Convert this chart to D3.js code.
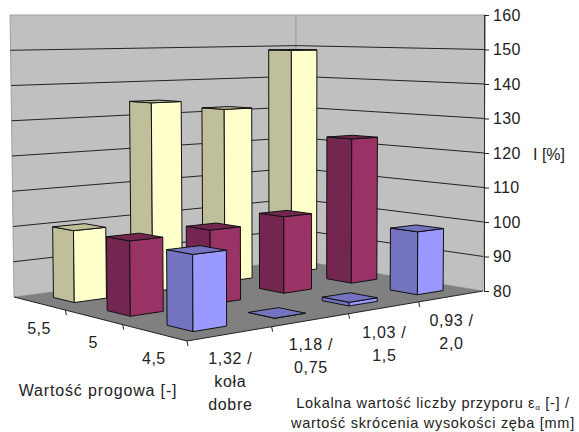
<!DOCTYPE html>
<html><head><meta charset="utf-8">
<script src="https://cdn.jsdelivr.net/npm/d3@7"></script>
<style>html,body{margin:0;padding:0;background:#fff}svg{display:block}text{font-family:"Liberation Sans",Arial,sans-serif;fill:#222}</style>
</head><body><svg id="c" width="579" height="432"></svg>
<script>
const categories=[["1,32 /","koła","dobre"],["1,18 /","0,75"],["1,03 /","1,5"],["0,93 /","2,0"]];
const depths=["5,5","5","4,5"];
const seriesYellow=[100,134.6,131.7,149];
const seriesMaroon=[100,100.5,102,123];
const seriesBlue=[99.5,80,81,98];
const valueTicks=[80,90,100,110,120,130,140,150,160];
const colours=[{left:"#BFBF99",right:"#FFFFCC",top:"#BFBF99"},{left:"#732650",right:"#993366",top:"#732650"},{left:"#7373BF",right:"#9999FF",top:"#7373BF"}];

const floor=quad([14,297],[296,260],[483,291],[187,341]);
function quad(p00,p10,p11,p01){
  const [x0,y0]=p00,[x1,y1]=p10,[x2,y2]=p11,[x3,y3]=p01;
  const sx=x0-x1+x2-x3,sy=y0-y1+y2-y3,dx1=x1-x2,dx2=x3-x2,dy1=y1-y2,dy2=y3-y2;
  const den=dx1*dy2-dx2*dy1,g=(sx*dy2-dx2*sy)/den,h=(dx1*sy-sx*dy1)/den;
  const a=x1-x0+g*x1,b=x3-x0+h*x3,d=y1-y0+g*y1,e=y3-y0+h*y3;
  return (u,v)=>{const w=g*u+h*v+1;return[(a*u+b*v+x0)/w,(d*u+e*v+y0)/w];};
}
const uScale=d3.scaleBand().domain(d3.range(categories.length)).range([0,1]).paddingInner(.6).paddingOuter(.3);
const vScale=d3.scaleBand().domain(depths).range([0,1]).paddingInner(.6).paddingOuter(.3);
const zScale=d3.scaleLinear().domain([80,160]).range([0,1]);
// all vertical edges converge so that the value 160 sits on one screen row
function P(u,v,val){const f=floor(u,v),t=zScale(val);return[f[0]+(f[0]-296)*0.014*t,f[1]+(15-f[1])*t];}
const line=d3.line();
const svg=d3.select("#c");

const poly=(pts,fill,stroke,sw)=>svg.append("path").attr("d",line(pts)+"Z").attr("fill",fill).attr("stroke",stroke||"none").attr("stroke-width",sw||1);
poly([P(0,0,80),P(1,0,80),P(1,0,160),P(0,0,160)],"#C0C0C0","#A0A0A0");
poly([P(1,0,80),P(1,1,80),P(1,1,160),P(1,0,160)],"#C0C0C0","#A0A0A0");
poly([P(0,0,80),P(1,0,80),P(1,1,80),P(0,1,80)],"#808080");

valueTicks.filter(t=>t>80&&t<160).forEach(t=>{
  svg.append("path").attr("d",line([P(0,0,t),P(1,0,t),P(1,1,t)])).attr("fill","none").attr("stroke","#222").attr("stroke-width",1);
});

svg.append("path").attr("d",line([P(0,0,80),P(0,1,80),P(1,1,80)])).attr("fill","none").attr("stroke","#222");
const tick=(p)=>svg.append("line").attr("x1",p[0]).attr("y1",p[1]).attr("x2",p[0]+1).attr("y2",p[1]+5).attr("stroke","#222");
d3.range(1,categories.length).forEach(i=>tick(P(i/4,1,80)));
tick(P(0,1,80));
d3.range(1,depths.length).forEach(i=>tick(P(0,i/3,80)));

const rows=[seriesYellow,seriesMaroon,seriesBlue];
const bars=[];
rows.forEach((vals,r)=>vals.forEach((val,c)=>bars.push({r,c,val})));
bars.sort((a,b)=>a.r-b.r||b.c-a.c);
bars.forEach(b=>{
  const u0=uScale(b.c),u1=u0+uScale.bandwidth(),v0=vScale(depths[b.r]),v1=v0+vScale.bandwidth(),col=colours[b.r];
  poly([P(u0,v0,80),P(u0,v1,80),P(u0,v1,b.val),P(u0,v0,b.val)],col.left,"#111");
  poly([P(u0,v1,80),P(u1,v1,80),P(u1,v1,b.val),P(u0,v1,b.val)],col.right,"#111");
  poly([P(u0,v0,b.val),P(u1,v0,b.val),P(u1,v1,b.val),P(u0,v1,b.val)],col.top,"#111");
});

const yAxis=d3.scaleLinear().domain([80,160]).range([P(1,1,80)[1],15]);
const ax=svg.append("g").attr("transform","translate(484,0)").call(d3.axisRight(yAxis).tickValues(valueTicks).tickSize(5).tickSizeOuter(0).tickPadding(4));
ax.select(".domain").attr("stroke","#333");
ax.selectAll("line").attr("stroke","#222");
ax.selectAll("text").attr("font-size",16).attr("letter-spacing",.3).style("font-family",'"Liberation Sans",Arial,sans-serif').attr("fill","#222");

const T=(x,y,s,size,spacing)=>svg.append("text").attr("x",x).attr("y",y).attr("text-anchor","middle").attr("font-size",size).attr("letter-spacing",spacing||0).text(s);
categories.forEach((lines,i)=>{
  const p=P(uScale(i)+uScale.bandwidth()/2,1,80);
  lines.forEach((s,j)=>T(p[0],p[1]+30+j*23,s,16,.7));
});
depths.forEach(d=>{
  const p=P(0,vScale(d)+vScale.bandwidth()/2,80);
  T(p[0],p[1]+31,d,16,.5);
});
T(549,160,"I [%]",16);
T(98,396,"Wartość progowa [-]",16,.85);
const l=T(433,408,"",14.5,.7);
l.append("tspan").text("Lokalna wartość liczby przyporu ε");
l.append("tspan").attr("font-size",8).attr("dy",2).text("α");
l.append("tspan").attr("dy",-2).text(" [-] /");
T(433,428,"wartość skrócenia wysokości zęba [mm]",14.5,.7);
</script></body></html>
